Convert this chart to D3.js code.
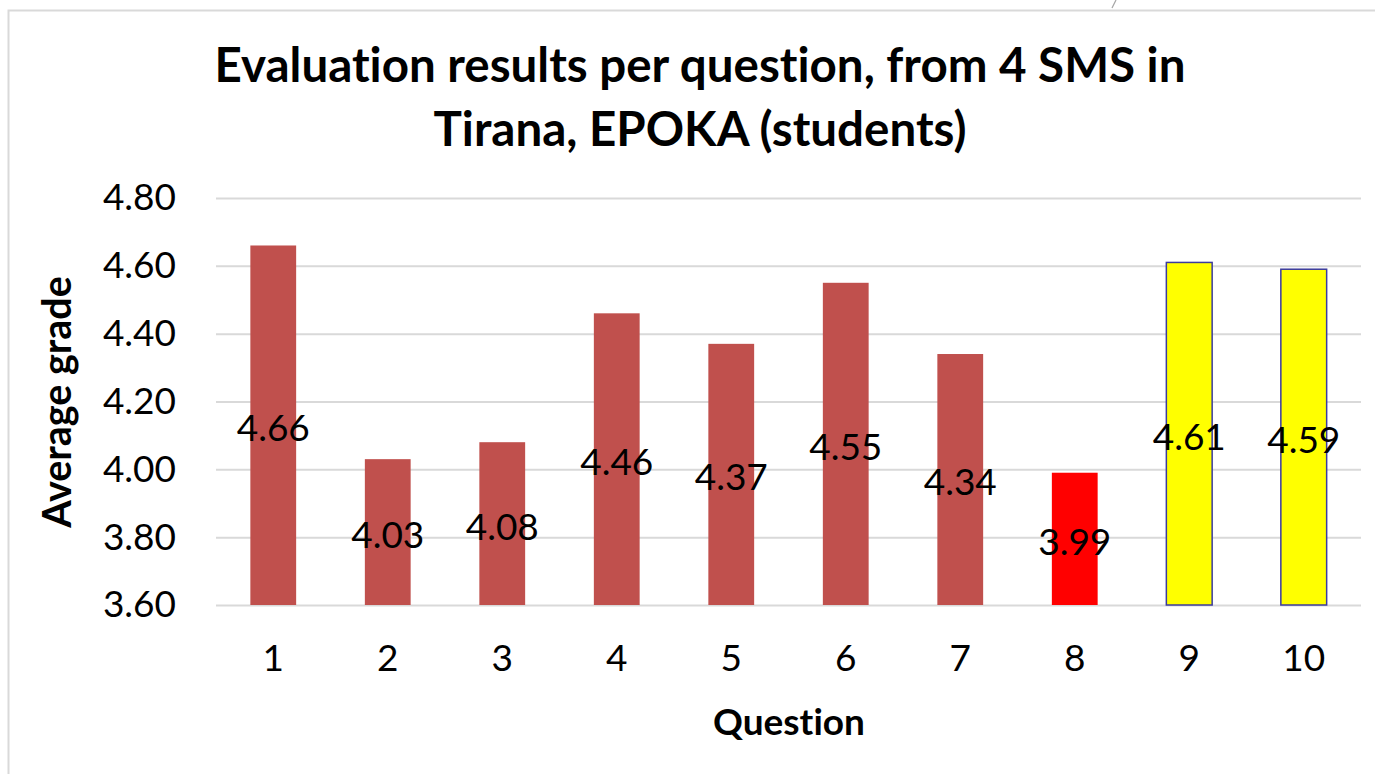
<!DOCTYPE html>
<html>
<head>
<meta charset="utf-8">
<script src="https://cdn.jsdelivr.net/npm/d3@7"></script>
<style>
  html, body { margin: 0; padding: 0; background: #fff; }
  svg { display: block; }
  text { font-family: Lato, "Open Sans", sans-serif; fill: #000; font-variant-ligatures: none; }
</style>
</head>
<body>
<svg id="chart" width="1375" height="774"></svg>
<script>
// Average grade per question
const questions = ["1", "2", "3", "4", "5", "6", "7", "8", "9", "10"];
const grades = [4.66, 4.03, 4.08, 4.46, 4.37, 4.55, 4.34, 3.99, 4.61, 4.59];
const barFills = ["#c0504d", "#c0504d", "#c0504d", "#c0504d", "#c0504d", "#c0504d", "#c0504d", "#ff0000", "#ffff00", "#ffff00"];
const barStrokes = ["none", "none", "none", "none", "none", "none", "none", "none", "#3b3b9e", "#3b3b9e"];
const yTicks = [3.6, 3.8, 4.0, 4.2, 4.4, 4.6, 4.8];
const titleLines = ["Evaluation results per question, from 4 SMS in", "Tirana, EPOKA (students)"];

const svg = d3.select("#chart");
const margin = { left: 216, right: 1361, top: 198, bottom: 605 };

// chart frame (top and left edges)
svg.append("path")
  .attr("d", "M8.5,774 V10.5 H1375")
  .attr("fill", "none")
  .attr("stroke", "#d9d9d9")
  .attr("stroke-width", 2);
svg.append("line")
  .attr("x1", 1112).attr("y1", 8).attr("x2", 1116).attr("y2", 0)
  .attr("stroke", "#a6a6a6").attr("stroke-width", 1.2);

const x = d3.scaleBand()
  .domain(questions)
  .range([margin.left, margin.right])
  .paddingInner(0.6)
  .paddingOuter(0.3);

const y = d3.scaleLinear()
  .domain([3.6, 4.8])
  .range([margin.bottom, margin.top]);

// horizontal gridlines
const yAxis = d3.axisLeft(y)
  .tickValues(yTicks)
  .tickSize(-(margin.right - margin.left))
  .tickPadding(40)
  .tickFormat(d3.format(".2f"));

const gy = svg.append("g")
  .attr("transform", `translate(${margin.left},0)`)
  .call(yAxis);
gy.select(".domain").remove();
gy.selectAll(".tick line").attr("stroke", "#d9d9d9").attr("stroke-width", 2);
gy.selectAll(".tick text")
  .attr("font-size", 37)
  .attr("font-family", "Lato, sans-serif")
  .attr("fill", "#000");

// bars
svg.append("g").selectAll("rect")
  .data(grades)
  .join("rect")
  .attr("x", (d, i) => x(questions[i]))
  .attr("y", d => y(d))
  .attr("width", x.bandwidth())
  .attr("height", d => y(3.6) - y(d))
  .attr("fill", (d, i) => barFills[i])
  .attr("stroke", (d, i) => barStrokes[i])
  .attr("stroke-width", 1.5);

// value labels at bar centre
svg.append("g").selectAll("text")
  .data(grades)
  .join("text")
  .attr("x", (d, i) => x(questions[i]) + x.bandwidth() / 2)
  .attr("y", d => (y(d) + y(3.6)) / 2 + 3)
  .attr("dy", "0.35em")
  .attr("text-anchor", "middle")
  .attr("font-size", 37)
  .text(d => d3.format(".2f")(d));

// category axis
const xAxis = d3.axisBottom(x).tickSize(0).tickPadding(40);
const gx = svg.append("g")
  .attr("transform", `translate(0,${margin.bottom})`)
  .call(xAxis);
gx.select(".domain").remove();
gx.selectAll(".tick text")
  .attr("font-size", 37)
  .attr("font-family", "Lato, sans-serif")
  .attr("fill", "#000");

// titles
svg.append("g").selectAll("text")
  .data(titleLines)
  .join("text")
  .attr("x", 700)
  .attr("y", (d, i) => 65 + i * 64)
  .attr("dy", "0.35em")
  .attr("text-anchor", "middle")
  .attr("font-size", 47.5)
  .attr("font-weight", "bold")
  .text(d => d);

svg.append("text")
  .attr("x", 789)
  .attr("y", 722)
  .attr("dy", "0.35em")
  .attr("text-anchor", "middle")
  .attr("font-size", 37)
  .attr("font-weight", "bold")
  .text("Question");

svg.append("text")
  .attr("transform", "translate(57,402) rotate(-90)")
  .attr("dy", "0.35em")
  .attr("text-anchor", "middle")
  .attr("font-size", 39.5)
  .attr("font-weight", "bold")
  .text("Average grade");
</script>
</body>
</html>
